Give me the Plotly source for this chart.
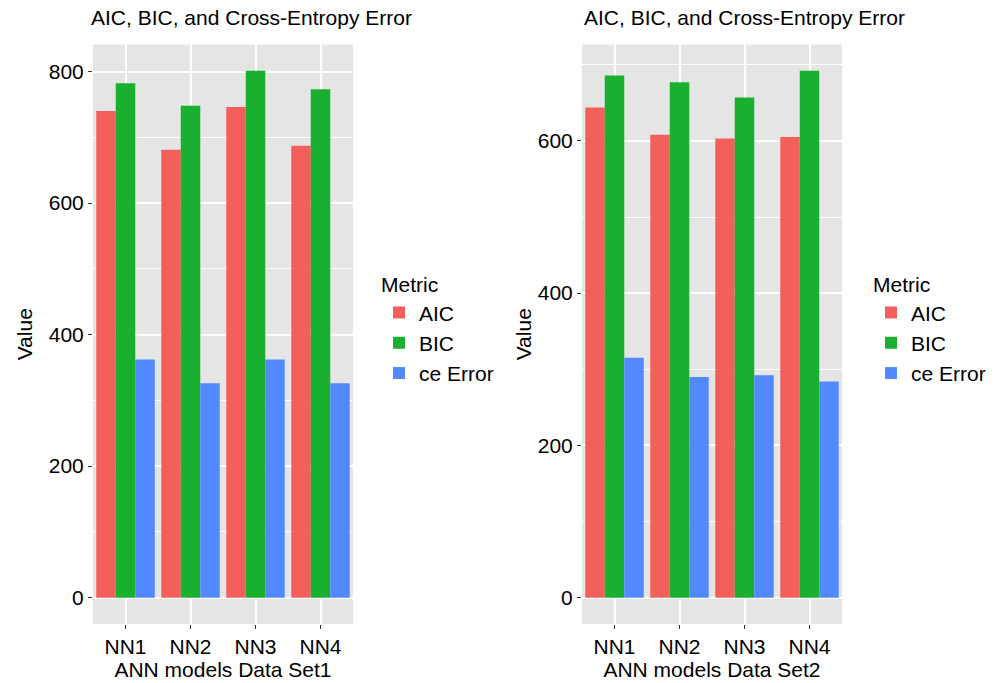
import plotly.graph_objects as go

models = ["NN1", "NN2", "NN3", "NN4"]
metrics = ["AIC", "BIC", "ce Error"]
colors = ["#F3605C", "#1AB02F", "#5389FF"]

set1_aic = [740, 681, 746, 687]
set1_bic = [782, 748, 801, 773]
set1_ce = [362, 326, 362, 326]

set2_aic = [644, 608, 603, 605]
set2_bic = [686, 677, 657, 692]
set2_ce = [315, 290, 292, 284]

panels = [
    ("x", "y", "legend", [set1_aic, set1_bic, set1_ce], "ANN models Data Set1"),
    ("x2", "y2", "legend2", [set2_aic, set2_bic, set2_ce], "ANN models Data Set2"),
]

FONT = "Liberation Sans, Arial, sans-serif"
FS = 21
W, H = 1001, 683

fig = go.Figure()
for xa, ya, lg, series, _ in panels:
    for name, vals, col in zip(metrics, series, colors):
        fig.add_trace(go.Bar(
            x=models, y=vals, name=name, marker=dict(color=col, line=dict(width=0)),
            xaxis=xa, yaxis=ya, legend=lg, hoverinfo="x+y+name",
        ))

def xaxis(dom, title):
    return dict(
        domain=dom, showgrid=True, gridcolor="white", gridwidth=2,
        ticks="outside", ticklen=4, tickwidth=1.2, tickcolor="#333333",
        tickfont=dict(family=FONT, size=FS, color="black"),
        title=dict(text=title, font=dict(family=FONT, size=FS, color="black"), standoff=4),
        zeroline=False, showline=False, fixedrange=True,
    )

def yaxis(rng, anchor, standoff):
    return dict(
        domain=[1 - 624 / H, 1 - 44.5 / H], range=rng, anchor=anchor,
        dtick=200, tick0=0, showgrid=True, gridcolor="white", gridwidth=2,
        minor=dict(dtick=100, tick0=0, showgrid=True, gridcolor="white", gridwidth=1),
        ticks="outside", ticklen=4, tickwidth=1.2, tickcolor="#333333",
        tickfont=dict(family=FONT, size=FS, color="black"),
        title=dict(text="Value", font=dict(family=FONT, size=FS, color="black"), standoff=standoff),
        zeroline=False, showline=False, fixedrange=True,
    )

max1 = max(set1_aic + set1_bic + set1_ce)
max2 = max(set2_aic + set2_bic + set2_ce)

legend_style = dict(
    title=dict(text="Metric", font=dict(family=FONT, size=FS, color="black")),
    font=dict(family=FONT, size=FS, color="black"),
    bgcolor="rgba(0,0,0,0)", xanchor="left", yanchor="top",
    traceorder="normal",
)

fig.update_layout(
    width=W, height=H,
    margin=dict(l=0, r=0, t=0, b=0),
    paper_bgcolor="white", plot_bgcolor="#E5E5E5",
    barmode="group", bargap=0.1, bargroupgap=0,
    font=dict(family=FONT, size=FS, color="black"),
    xaxis=xaxis([93 / W, 353 / W], panels[0][4]),
    xaxis2=xaxis([582 / W, 842 / W], panels[1][4]),
    yaxis=yaxis([-0.05 * max1, 1.05 * max1], "x", 10),
    yaxis2=yaxis([-0.05 * max2, 1.05 * max2], "x2", 0),
    legend=dict(x=379 / W, y=1 - 265 / H, **legend_style),
    legend2=dict(x=871 / W, y=1 - 265 / H, **legend_style),
    annotations=[
        dict(text="AIC, BIC, and Cross-Entropy Error", x=89 / W, y=1 - 17 / H,
             xref="paper", yref="paper", xanchor="left", yanchor="middle",
             showarrow=False, font=dict(family=FONT, size=FS, color="black")),
        dict(text="AIC, BIC, and Cross-Entropy Error", x=582 / W, y=1 - 17 / H,
             xref="paper", yref="paper", xanchor="left", yanchor="middle",
             showarrow=False, font=dict(family=FONT, size=FS, color="black")),
    ],
)

fig.write_html(
    "out.html",
    config={"displayModeBar": False},
    post_script="document.body.style.margin='0';document.body.style.overflow='hidden';",
)
